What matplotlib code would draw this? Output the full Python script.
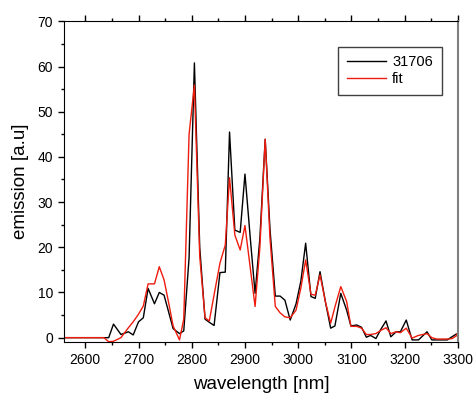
import numpy as np
import matplotlib
matplotlib.use("Agg")
import matplotlib.pyplot as plt
from matplotlib.ticker import MultipleLocator

plt.rcParams['font.family'] = ['Liberation Sans', 'DejaVu Sans']

# wavelength [nm]
wavelength = [2560, 2635, 2644, 2653, 2667, 2681, 2690, 2700, 2709, 2718,
              2730, 2739, 2748, 2757, 2765, 2777, 2785, 2795, 2805, 2815,
              2825, 2833, 2842, 2853, 2863, 2871, 2881, 2891, 2900, 2910,
              2919, 2928, 2938, 2947, 2957, 2966, 2975, 2985, 2996, 3005,
              3014, 3024, 3032, 3041, 3051, 3061, 3069, 3080, 3091, 3099,
              3110, 3119, 3128, 3136, 3146, 3155, 3165, 3174, 3184, 3192,
              3203, 3214, 3226, 3234, 3242, 3251, 3260, 3270, 3280, 3289,
              3297, 3300]

# measured emission (31706)
measured = [0, 0, 0, 3.0, 0.7, 1.3, 0.6, 3.5, 4.4, 10.9,
            7.5, 10.0, 9.4, 5.5, 2.0, 0.9, 1.5, 17.7, 60.8, 20.0,
            4.1, 3.4, 2.7, 14.4, 14.5, 45.5, 23.8, 23.3, 36.2, 22.0,
            9.8, 22.0, 43.9, 24.0, 9.2, 9.2, 8.3, 3.9, 7.5, 12.5,
            20.9, 9.1, 8.7, 14.6, 8.0, 2.1, 2.6, 9.8, 6.1, 2.6,
            2.8, 2.3, 0.1, 0.5, -0.2, 1.8, 3.7, 0.2, 1.3, 1.3,
            3.9, -0.5, -0.5, 0.4, 1.3, -0.5, -0.5, -0.5, -0.5, 0.2,
            0.8, 0.8]

# fitted emission
fit = [0, 0, -0.9, -0.8, 0.0, 2.2, 3.5, 5.2, 7.0, 11.9,
       11.9, 15.7, 12.8, 7.5, 2.6, -0.5, 4.1, 45.0, 55.9, 18.0,
       4.4, 3.7, 9.5, 16.5, 20.5, 35.4, 22.7, 19.4, 24.8, 15.4,
       6.9, 20.0, 43.9, 22.0, 6.9, 5.5, 4.6, 4.4, 6.1, 11.0,
       17.2, 9.6, 9.4, 13.9, 8.0, 3.2, 6.8, 11.3, 8.0, 2.5,
       2.5, 2.1, 0.7, 0.7, 0.9, 1.6, 2.2, 0.9, 1.3, 1.1,
       2.1, -0.1, 0.5, 0.7, 0.9, 0.0, -0.3, -0.3, -0.3, -0.2,
       0.4, 1.1]

fig = plt.figure(figsize=(4.74, 3.99), dpi=100)
ax = fig.add_axes([0.135, 0.1424, 0.831, 0.8042])

ax.plot(wavelength, measured, color='black', linewidth=1.0, label='31706')
ax.plot(wavelength, fit, color='#ee1c0e', linewidth=1.0, label='fit')

ax.set_xlim(2560, 3300)
ax.set_ylim(-1, 70)
ax.xaxis.set_major_locator(MultipleLocator(100))
ax.xaxis.set_minor_locator(MultipleLocator(50))
ax.yaxis.set_major_locator(MultipleLocator(10))
ax.yaxis.set_minor_locator(MultipleLocator(5))

ax.tick_params(which='both', direction='out', top=True, right=False,
               labelsize=10, width=1.0)
ax.tick_params(which='major', length=4.5)
ax.tick_params(which='minor', length=2.5)
ax.spines['right'].set_color('#808080')
ax.spines['right'].set_linewidth(1.5)

ax.set_xlabel('wavelength [nm]', fontsize=13.5, labelpad=6)
ax.set_ylabel('emission [a.u]', fontsize=13.5, labelpad=6)

leg = ax.legend(loc='upper right', bbox_to_anchor=(0.959, 0.921),
                borderaxespad=0, fontsize=10.5, handlelength=2.7,
                fancybox=False, framealpha=1, edgecolor='#404040',
                borderpad=0.6, labelspacing=0.2, handletextpad=0.4)
leg.get_frame().set_linewidth(1.0)

plt.savefig('out.png', dpi=100)
plt.close()
